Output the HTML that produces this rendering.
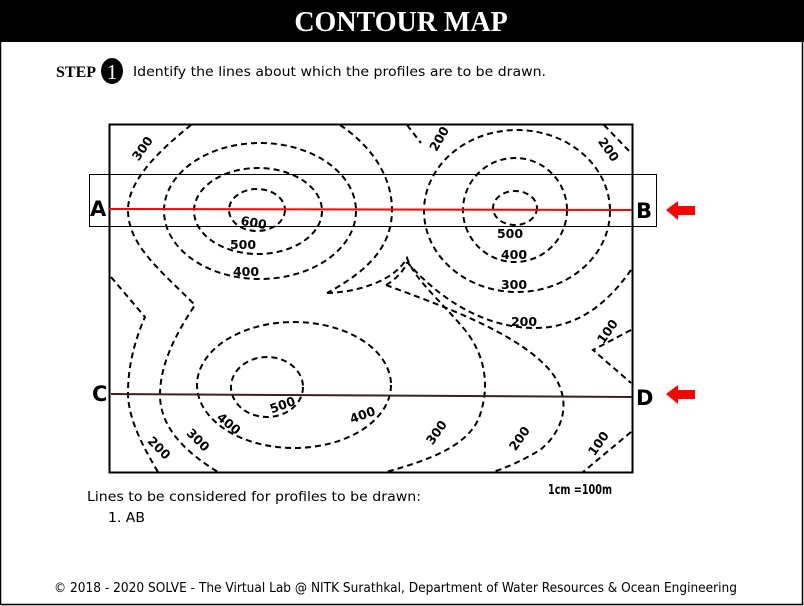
<!DOCTYPE html>
<html><head><meta charset="utf-8"><style>
html,body{margin:0;padding:0;background:#fff;}
svg{display:block;}
</style></head><body>
<svg width="804" height="606" viewBox="0 0 804 606" xmlns="http://www.w3.org/2000/svg">
<rect x="0.5" y="0.5" width="802" height="604" fill="#fff" stroke="#000" stroke-width="1.5"/>
<rect x="0" y="0" width="804" height="42" fill="#000"/>
<text x="401" y="31" text-anchor="middle" font-family="Liberation Serif, serif" font-weight="bold" font-size="28" fill="#fff">CONTOUR MAP</text>
<text x="56" y="77" font-family="Liberation Serif, serif" font-weight="bold" font-size="16">STEP</text>
<ellipse cx="112" cy="71" rx="11" ry="13" fill="#000"/>
<text x="112" y="79" text-anchor="middle" font-family="Liberation Serif, serif" font-size="21" fill="#fff">1</text>
<text x="133" y="76" font-family="DejaVu Sans, sans-serif" font-size="13.5" textLength="413" lengthAdjust="spacingAndGlyphs">Identify the lines about which the profiles are to be drawn.</text>

<g>
<rect x="109.5" y="124.5" width="523" height="348" fill="none" stroke="#000" stroke-width="2"/>
<g fill="none" stroke="#000" stroke-width="2" stroke-dasharray="6,4">
<ellipse cx="257" cy="210" rx="28" ry="21"/>
<ellipse cx="258" cy="211" rx="64" ry="43"/>
<ellipse cx="260" cy="211" rx="96" ry="68"/>
<ellipse cx="515" cy="208" rx="22" ry="17"/>
<ellipse cx="515" cy="210" rx="52" ry="52"/>
<ellipse cx="517" cy="211" rx="93" ry="81"/>
<ellipse cx="267" cy="387" rx="36" ry="30"/>
<ellipse cx="294" cy="385" rx="97" ry="63"/>
<path d="M191,125 C160,150 128,180 128,210 C128,245 160,270 195,305 C175,335 160,365 160,395 C160,430 190,455 218,472"/>
<path d="M111,277 L145,317 C135,340 128,365 128,393 C128,420 145,450 158,472"/>
<path d="M340,125 C370,145 392,175 392,210 C392,245 370,270 327,293"/>
<path d="M327,293 C360,292 395,280 407,258 C415,280 440,300 465,330 C485,355 490,385 480,415 C470,445 430,460 386,472"/>
<path d="M386,285 C395,280 405,270 407,262 M386,285 C440,305 510,330 545,365 C575,395 565,430 540,450 C520,462 505,468 493,472"/>
<path d="M631,270 C610,300 580,328 535,328 C490,328 445,305 407,262"/>
<path d="M407,125 L421,143"/>
<path d="M604,125 L631,153"/>
<path d="M631,330 L593,350 L631,383"/>
<path d="M631,432 L583,472"/>
</g>
<g font-family="DejaVu Sans, sans-serif" font-weight="bold" font-size="12.5" text-anchor="middle">
<text transform="translate(146,151) rotate(-55)">300</text>
<text transform="translate(443,141) rotate(-60)">200</text>
<text transform="translate(605,152) rotate(55)">200</text>
<text transform="translate(253,227) rotate(10)">600</text>
<text x="243" y="249">500</text>
<text x="246" y="276">400</text>
<text x="510" y="238">500</text>
<text x="514" y="259">400</text>
<text x="514" y="289">300</text>
<text x="524" y="326">200</text>
<text transform="translate(611,334) rotate(-55)">100</text>
<text transform="translate(284,409) rotate(-20)">500</text>
<text transform="translate(364,419) rotate(-20)">400</text>
<text transform="translate(226,427) rotate(40)">400</text>
<text transform="translate(195,443) rotate(45)">300</text>
<text transform="translate(156,451) rotate(45)">200</text>
<text transform="translate(440,435) rotate(-55)">300</text>
<text transform="translate(523,441) rotate(-55)">200</text>
<text transform="translate(602,446) rotate(-55)">100</text>
</g>
<rect x="89.5" y="174.5" width="567" height="52" fill="none" stroke="#000" stroke-width="1"/>
<line x1="109" y1="209" x2="632" y2="210" stroke="#f00" stroke-width="2"/>
<line x1="111" y1="394" x2="632" y2="397" stroke="#3a2020" stroke-width="2"/>
<g font-family="DejaVu Sans, sans-serif" font-weight="bold" font-size="21">
<text x="90" y="216">A</text>
<text x="636" y="218">B</text>
<text x="92" y="401">C</text>
<text x="636" y="405">D</text>
</g>
<polygon points="666,210 678,201 678,206 695,206 695,215 678,215 678,220" fill="#f00"/>
<polygon points="666,394 678,385 678,390 695,390 695,399 678,399 678,404" fill="#f00"/>
<text x="548" y="494" font-family="DejaVu Sans Condensed, DejaVu Sans, sans-serif" font-weight="bold" font-size="13" textLength="64" lengthAdjust="spacingAndGlyphs">1cm =100m</text>
</g>

<text x="87" y="501" font-family="DejaVu Sans, sans-serif" font-size="13.5" textLength="334" lengthAdjust="spacingAndGlyphs">Lines to be considered for profiles to be drawn:</text>
<text x="108" y="522" font-family="DejaVu Sans, sans-serif" font-size="13.5" textLength="37" lengthAdjust="spacingAndGlyphs">1. AB</text>
<text x="54" y="592" font-family="DejaVu Sans, sans-serif" font-size="13" textLength="683" lengthAdjust="spacingAndGlyphs">© 2018 - 2020 SOLVE - The Virtual Lab @ NITK Surathkal, Department of Water Resources &amp; Ocean Engineering</text>
</svg>
</body></html>
